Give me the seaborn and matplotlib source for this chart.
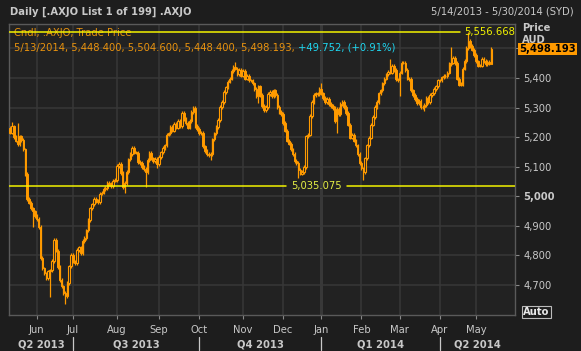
import numpy as np
import pandas as pd
import matplotlib
matplotlib.use("Agg")
import matplotlib.pyplot as plt
import seaborn as sns

# ASX trading calendar, 14 May 2013 .. 13 May 2014
holidays = ["2013-06-10", "2013-12-25", "2013-12-26", "2014-01-01",
            "2014-01-27", "2014-04-18", "2014-04-21", "2014-04-25"]

first_open = 5230

closes = [
    5215, 5236, 5200, 5188, 5176, 5202, 5190, 5158, 5075, 4990,
    4978, 4958, 4948, 4932, 4922, 4895, 4790, 4755, 4738,
    4722, 4745, 4748, 4780, 4852, 4815, 4760, 4716, 4694, 4672,
    4660, 4705, 4762, 4800, 4778, 4772, 4818, 4826, 4806, 4848,
    4858, 4884, 4918, 4958, 4972, 4990, 4984, 4980, 5008,
    5012, 5024, 5028, 5044, 5040, 5034, 5052, 5055, 5102, 5110,
    5078, 5030, 5044, 5082, 5124, 5142, 5163, 5148, 5147, 5116,
    5112, 5098, 5092, 5082, 5122, 5145, 5128, 5118, 5126, 5108,
    5132, 5148, 5162, 5172, 5208, 5212, 5234, 5222, 5244,
    5232, 5254, 5238, 5282, 5262, 5248, 5232, 5254, 5284, 5298,
    5238, 5228, 5212, 5214, 5168, 5152, 5142, 5138, 5142, 5192,
    5212, 5234, 5258, 5302, 5318, 5352, 5368, 5388, 5398,
    5424, 5438, 5432, 5412, 5428, 5408, 5424, 5398, 5408, 5392,
    5392, 5382, 5362, 5338, 5372, 5342, 5306, 5292, 5302, 5346,
    5352, 5338, 5358, 5342, 5302, 5284, 5278, 5248, 5222,
    5188, 5178, 5158, 5142, 5118, 5112, 5088, 5076, 5082, 5098,
    5202, 5208, 5272, 5318, 5342, 5348, 5346, 5362, 5348, 5332,
    5318, 5328, 5312, 5306, 5298, 5255, 5296, 5278, 5312,
    5318, 5302, 5282, 5242, 5198, 5208, 5188, 5172, 5142, 5112,
    5094, 5082, 5128, 5172, 5198, 5242, 5268, 5302, 5318, 5348,
    5358, 5382, 5398, 5412, 5422, 5418, 5442, 5428, 5395,
    5392, 5418, 5452, 5452, 5428, 5398, 5396, 5358, 5342, 5328,
    5316, 5322, 5302, 5302, 5308, 5332, 5318, 5342, 5348, 5362,
    5372, 5392, 5392, 5402, 5408, 5406, 5418, 5448, 5452, 5468,
    5450, 5398, 5378, 5380, 5432, 5458, 5502, 5525, 5508,
    5496, 5478, 5456, 5442, 5442, 5466, 5458, 5446, 5454, 5448.4,
    5498.193,
]

# notable wicks (trading-day index -> price)
wick_highs = {1: 5250, 4: 5247, 115: 5404, 118: 5455, 163: 5383, 199: 5464,
              231: 5506, 240: 5556.668, 252: 5504.6}
wick_lows = {12: 4895, 21: 4658, 29: 4634, 60: 5010, 71: 5032, 77: 5095,
             105: 5122, 130: 5315, 151: 5061, 171: 5213, 185: 5054,
             204: 5340, 217: 5288, 252: 5448.4}

ref_high = 5556.668
ref_low = 5035.075
last_price = 5498.193
y_ticks = [4700, 4800, 4900, 5000, 5100, 5200, 5300, 5400, 5500]

dates = pd.bdate_range("2013-05-14", "2014-05-13", freq="C", holidays=holidays)
df = pd.DataFrame({"date": dates, "close": closes})
df["open"] = [first_open] + closes[:-1]
df["high"] = df[["open", "close"]].max(axis=1) + 6
df["low"] = df[["open", "close"]].min(axis=1) - 6
for k, v in wick_highs.items():
    df.loc[k, "high"] = v
for k, v in wick_lows.items():
    df.loc[k, "low"] = v
df["x"] = np.arange(len(df))

fig_bg = "#1d1d1d"
ax_bg = "#222222"
grid_c = "#383838"
orange = "#FF9A00"
txt = "#C8C8C8"

sns.set_theme(style="dark", rc={
    "axes.facecolor": ax_bg,
    "figure.facecolor": fig_bg,
    "axes.edgecolor": "#5a5a5a",
    "grid.color": grid_c,
    "text.color": txt,
    "xtick.color": txt,
    "ytick.color": txt,
})
plt.rcParams["font.family"] = ["DejaVu Sans"]

W, H = 581, 351
fig = plt.figure(figsize=(W / 100, H / 100), dpi=100)
ax = fig.add_axes([9 / W, 1 - 315 / H, 506 / W, 291 / H])

x_left, x_right = -0.52, 264.4
ax.set_xlim(x_left, x_right)
ax.set_ylim(4597, 5583)

# month starts
m = df["date"].dt.month
starts = df.index[m != m.shift()][1:]
month_labels = df.loc[starts, "date"].dt.strftime("%b").tolist()

for s in starts:
    lw = 2.2 if df.loc[s, "date"].month == 1 else 1.1
    ax.axvline(s, color=grid_c, lw=lw, zorder=0)
for t in y_ticks:
    ax.axhline(t, color=grid_c, lw=1.1, zorder=0)

# candles
up = df[df["close"] >= df["open"]]
dn = df[df["close"] < df["open"]]
ax.vlines(df["x"], df["low"], df["high"], color=orange, lw=0.9, zorder=2)
ax.bar(dn["x"], dn["open"] - dn["close"], bottom=dn["close"], width=0.8,
       color=orange, edgecolor=orange, linewidth=0.7, zorder=3)
ax.bar(up["x"], up["close"] - up["open"], bottom=up["open"], width=0.8,
       color=ax_bg, edgecolor=orange, linewidth=0.8, zorder=3)

# reference lines
yt = ax.get_yaxis_transform()
ax.plot([0, 0.891], [ref_high, ref_high], color="#F2F200", lw=1.1,
        transform=yt, zorder=4)
ax.text(1.0, ref_high, "5,556.668", color="#F2F200", fontsize=7.2,
        ha="right", va="center", transform=yt, zorder=5)
ax.plot([0, 0.547], [ref_low, ref_low], color="#F2F200", lw=1.1,
        transform=yt, zorder=4)
ax.plot([0.667, 1.0], [ref_low, ref_low], color="#F2F200", lw=1.1,
        transform=yt, zorder=4)
ax.text(0.607, ref_low, "5,035.075", color="#E4EE44", fontsize=7.2,
        ha="center", va="center", transform=yt, zorder=5)

# axes ticks
ax.yaxis.tick_right()
ax.set_yticks(y_ticks)
ax.set_yticklabels([f"{t:,}" if t != 5500 else "" for t in y_ticks])
ax.tick_params(axis="y", length=3, width=0.8, color="#8a8a8a", pad=3,
               labelsize=7.2, labelcolor=txt, right=True, left=False)
for lab in ax.get_yticklabels():
    if lab.get_text() == "5,000":
        lab.set_fontweight("bold")
ax.set_xticks(starts)
ax.set_xticklabels(month_labels)
ax.tick_params(axis="x", length=3, width=0.8, color="#8a8a8a", pad=4,
               labelsize=7.2, labelcolor=txt, bottom=True)
ax.grid(False)
for sp in ax.spines.values():
    sp.set_color("#5a5a5a")
    sp.set_linewidth(1)

# quarter row
bt = ax.get_xaxis_transform()
q_edges = [x_left] + [s for s in starts if df.loc[s, "date"].month in (1, 4, 7, 10)] + [x_right]
q_names = ["Q2 2013", "Q3 2013", "Q4 2013", "Q1 2014", "Q2 2014"]
for i, name in enumerate(q_names):
    ax.text((q_edges[i] + q_edges[i + 1]) / 2, -0.102, name, transform=bt,
            ha="center", va="center", fontsize=7.2, fontweight="bold",
            color=txt, clip_on=False)
for e in q_edges[1:-1]:
    ax.plot([e, e], [-0.076, -0.12], transform=bt, color=txt, lw=0.9,
            clip_on=False)

# header and legend text
def px(x, y):
    return x / W, 1 - y / H

fig.text(*px(10, 12), "Daily [.AXJO List 1 of 199] .AXJO", fontsize=7.2,
         fontweight="bold", color=txt, va="center")
fig.text(*px(574, 12), "5/14/2013 - 5/30/2014 (SYD)", fontsize=7.2,
         color=txt, va="center", ha="right")
ax.text(0.01, 0.969, "Cndl, .AXJO, Trade Price", transform=ax.transAxes,
        fontsize=7.2, color="#E8920E", va="center", zorder=3)
t1 = ax.text(0.01, 0.918, "5/13/2014, 5,448.400, 5,504.600, 5,448.400, 5,498.193, ",
             transform=ax.transAxes, fontsize=7.2, color="#E8920E", va="center")
fig.canvas.draw()
bb = t1.get_window_extent()
fig.text(bb.x1 / W, 1 - 48 / H, "+49.752, (+0.91%)", fontsize=7.2,
         color="#1ED6F0", va="center")

fig.text(*px(522, 28), "Price", fontsize=7.2, fontweight="bold", color=txt, va="center")
fig.text(*px(522, 40), "AUD", fontsize=7.2, fontweight="bold", color=txt, va="center")
ax.text(1.008, last_price, "5,498.193", transform=yt,
        fontsize=7.2, fontweight="bold", color="black", va="center", ha="left",
        clip_on=False, zorder=6,
        bbox=dict(boxstyle="square,pad=0.12", fc="#FF9A00", ec="none"))
fig.text(*px(523, 312), "Auto", fontsize=7.2, fontweight="bold", color="#E8E8E8",
         va="center",
         bbox=dict(boxstyle="square,pad=0.12", fc=fig_bg, ec="#BBBBBB", lw=0.8))

fig.savefig("out.png", dpi=100, facecolor=fig_bg)
